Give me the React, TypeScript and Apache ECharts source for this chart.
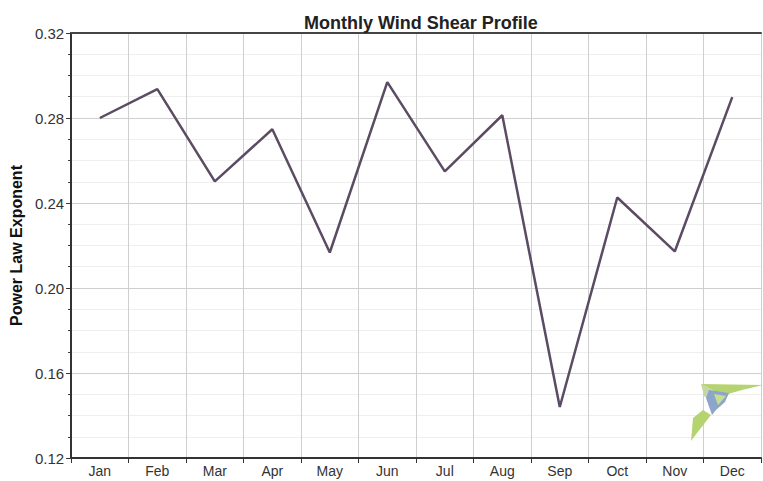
import React, { useEffect, useRef } from "react";
import * as echarts from "echarts";

const months = ["Jan", "Feb", "Mar", "Apr", "May", "Jun", "Jul", "Aug", "Sep", "Oct", "Nov", "Dec"];
const shearExponent = [0.28, 0.2936, 0.2502, 0.2747, 0.2167, 0.2969, 0.2549, 0.2813, 0.144, 0.2426, 0.2172, 0.2898];
const yTicks = { min: 0.12, max: 0.32, interval: 0.04 };

export default function App() {
  const ref = useRef<HTMLDivElement>(null);
  useEffect(() => {
    document.body.style.margin = "0";
    const chart = echarts.init(ref.current!, null, { renderer: "svg" });
    const font = "Arial, 'Liberation Sans', sans-serif";
    chart.setOption({
      animation: false,
      backgroundColor: "#ffffff",
      title: {
        text: "Monthly Wind Shear Profile",
        left: 299,
        top: 9,
        textStyle: { fontFamily: font, fontSize: 18, fontWeight: "bold", color: "#222" },
      },
      grid: { left: 70, right: 2, top: 33, bottom: 23, containLabel: false },
      xAxis: [
        {
          type: "category",
          data: months,
          boundaryGap: true,
          axisLine: { show: true, lineStyle: { color: "#333", width: 2 } },
          axisTick: { show: true, length: 5, lineStyle: { color: "#333" } },
          axisLabel: { fontFamily: font, fontSize: 14, color: "#333", margin: 6 },
          splitLine: { show: true, lineStyle: { color: "#cfcfcf", width: 1 } },
        },
        {
          type: "category",
          data: months,
          position: "top",
          axisLine: { show: true, lineStyle: { color: "#444", width: 2 } },
          axisTick: { show: false },
          axisLabel: { show: false },
          splitLine: { show: false },
        },
      ],
      yAxis: {
        type: "value",
        min: yTicks.min,
        max: yTicks.max,
        interval: yTicks.interval,
        name: "Power Law Exponent",
        nameLocation: "middle",
        nameGap: 44,
        nameTextStyle: { fontFamily: font, fontSize: 16, fontWeight: "bold", color: "#111" },
        axisLine: { show: true, lineStyle: { color: "#333", width: 2 } },
        axisTick: { show: true, length: 5, lineStyle: { color: "#333" } },
        minorTick: { show: true, splitNumber: 4, length: 3, lineStyle: { color: "#333" } },
        axisLabel: {
          fontFamily: font,
          fontSize: 15,
          color: "#333",
          margin: 7,
          formatter: (v: number) => v.toFixed(2),
        },
        splitLine: { show: true, lineStyle: { color: "#cfcfcf", width: 1 } },
        minorSplitLine: { show: true, lineStyle: { color: "#eeeeee", width: 1 } },
      },
      series: [
        {
          type: "line",
          data: shearExponent,
          symbol: "none",
          lineStyle: { color: "#5b4b63", width: 2.5 },
          z: 5,
        },
      ],
      graphic: [
        { type: "polygon", z: 10, shape: { points: [[701, 384], [763, 385], [742, 390], [728, 394], [716, 392]] }, style: { fill: "#b5d36e" } },
        { type: "polygon", z: 10, shape: { points: [[701, 384], [716, 392], [712, 402], [704, 396]] }, style: { fill: "#c2d6a8" } },
        { type: "polygon", z: 10, shape: { points: [[709, 390], [729, 393], [725, 402], [716, 410], [712, 415], [706, 398]] }, style: { fill: "#8ca5cb" } },
        { type: "polygon", z: 11, shape: { points: [[714, 394], [726, 396], [718, 405]] }, style: { fill: "#c8de8f" } },
        { type: "polygon", z: 10, shape: { points: [[691, 441], [693, 418], [703, 410], [711, 415], [704, 424], [697, 433]] }, style: { fill: "#b5d36e" } },
      ],
    });
    return () => chart.dispose();
  }, []);
  return <div ref={ref} style={{ width: 763, height: 481 }} />;
}
